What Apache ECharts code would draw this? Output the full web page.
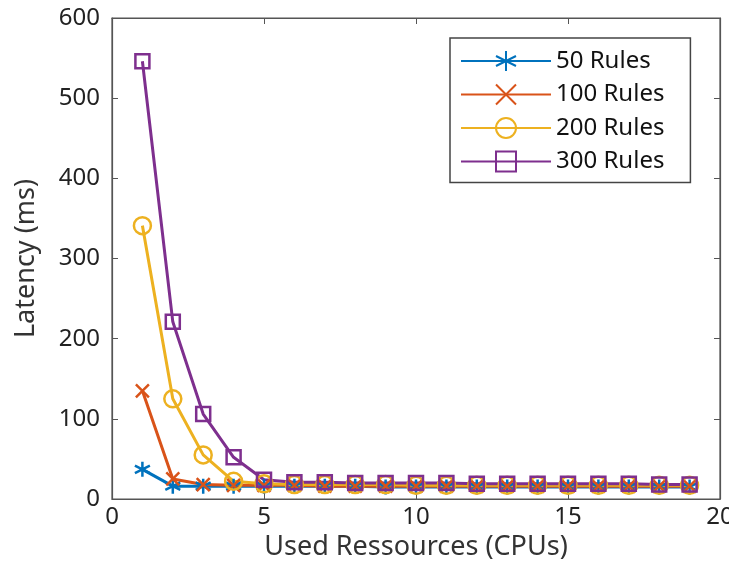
<!DOCTYPE html>
<html>
<head>
<meta charset="utf-8">
<script src="https://cdn.jsdelivr.net/npm/echarts@6/dist/echarts.min.js"></script>
<style>
  html, body { margin: 0; padding: 0; background: #fff; }
  #chart1 { width: 729px; height: 565px; }
</style>
</head>
<body>
<div id="chart1"></div>
<script>
// 数据
var cpus = [1, 2, 3, 4, 5, 6, 7, 8, 9, 10, 11, 12, 13, 14, 15, 16, 17, 18, 19];
var rules50 = [37, 16, 16, 16, 16, 16, 16, 16, 15, 15, 15, 15, 15, 15, 15, 15, 15, 15, 15];
var rules100 = [135, 25, 18, 17, 17, 17, 16, 16, 16, 16, 16, 16, 16, 16, 16, 16, 16, 16, 16];
var rules200 = [341, 125, 55, 22, 19, 18, 18, 18, 18, 17, 17, 17, 17, 17, 17, 17, 17, 17, 17];
var rules300 = [546, 221, 106, 52, 24, 21, 21, 20, 20, 20, 20, 19, 19, 19, 19, 19, 19, 18, 18];
var seriesNames = ['50 Rules', '100 Rules', '200 Rules', '300 Rules'];
var xTicks = [0, 5, 10, 15, 20];
var yTicks = [0, 100, 200, 300, 400, 500, 600];

var colors = ['#0072BD', '#D95319', '#EDB120', '#7E2F8E'];
var symbols = [
    'path://M0,-10L0,10M-8.66,-5L8.66,5M-8.66,5L8.66,-5', // 星号
    'path://M-7,-7L7,7M-7,7L7,-7', // 叉
    'circle',
    'rect'
];
var symbolSizes = [15, 13, 17, 14];
var fontName = 'Noto Sans';

function pairs(ys) {
    return cpus.map(function (x, i) { return [x, ys[i]]; });
}

var allData = [rules50, rules100, rules200, rules300];

var series = allData.map(function (ys, i) {
    return {
        name: seriesNames[i],
        type: 'line',
        data: pairs(ys),
        symbol: symbols[i],
        symbolSize: symbolSizes[i],
        showAllSymbol: true,
        lineStyle: { color: colors[i], width: 3 },
        itemStyle: { color: 'rgba(0,0,0,0)', borderColor: colors[i], borderWidth: 2.5 },
        emphasis: { disabled: true },
        animation: false
    };
});

var axisCommon = {
    axisLine: { show: true, onZero: false, lineStyle: { color: '#555', width: 1.2 } },
    axisTick: { show: true, inside: true, length: 6, lineStyle: { color: '#555' } },
    splitLine: { show: false }
};

option = {
    backgroundColor: '#fff',
    grid: {
        left: 112,
        right: 9,
        top: 18,
        bottom: 66,
        outerBoundsMode: 'none',
        show: true,
        borderColor: '#555',
        borderWidth: 1.2
    },
    legend: {
        orient: 'vertical',
        left: 450,
        top: 38,
        data: seriesNames,
        itemWidth: 90,
        itemHeight: 25,
        itemGap: 9.5,
        padding: [11, 26, 9, 10],
        borderColor: '#444',
        borderWidth: 1.5,
        textStyle: { fontFamily: fontName, fontSize: 24, color: '#111' }
    },
    xAxis: [{
        type: 'value',
        min: 0,
        max: 20,
        interval: 5,
        name: 'Used Ressources (CPUs)',
        nameLocation: 'middle',
        nameGap: 30,
        nameTextStyle: { fontFamily: fontName, fontSize: 27, color: '#333' },
        axisLabel: {
            fontFamily: fontName, fontSize: 24, color: '#222', margin: 6,
            formatter: function (v) { return xTicks.indexOf(v) >= 0 ? v : ''; }
        },
        axisLine: axisCommon.axisLine,
        axisTick: axisCommon.axisTick,
        splitLine: axisCommon.splitLine
    }, {
        type: 'value',
        position: 'top',
        min: 0,
        max: 20,
        interval: 5,
        axisLabel: { show: false },
        axisLine: axisCommon.axisLine,
        axisTick: axisCommon.axisTick,
        splitLine: axisCommon.splitLine
    }],
    yAxis: [{
        type: 'value',
        min: 0,
        max: 600,
        interval: 100,
        name: 'Latency (ms)',
        nameLocation: 'middle',
        nameGap: 72,
        nameTextStyle: { fontFamily: fontName, fontSize: 27, color: '#333' },
        axisLabel: {
            fontFamily: fontName, fontSize: 24, color: '#222', margin: 12,
            formatter: function (v) { return yTicks.indexOf(v) >= 0 ? v : ''; }
        },
        axisLine: axisCommon.axisLine,
        axisTick: axisCommon.axisTick,
        splitLine: axisCommon.splitLine
    }, {
        type: 'value',
        position: 'right',
        min: 0,
        max: 600,
        interval: 100,
        axisLabel: { show: false },
        axisLine: axisCommon.axisLine,
        axisTick: axisCommon.axisTick,
        splitLine: axisCommon.splitLine
    }],
    series: series
};

var myChart = echarts.init(document.getElementById('chart1'));
myChart.setOption(option);
</script>
</body>
</html>
